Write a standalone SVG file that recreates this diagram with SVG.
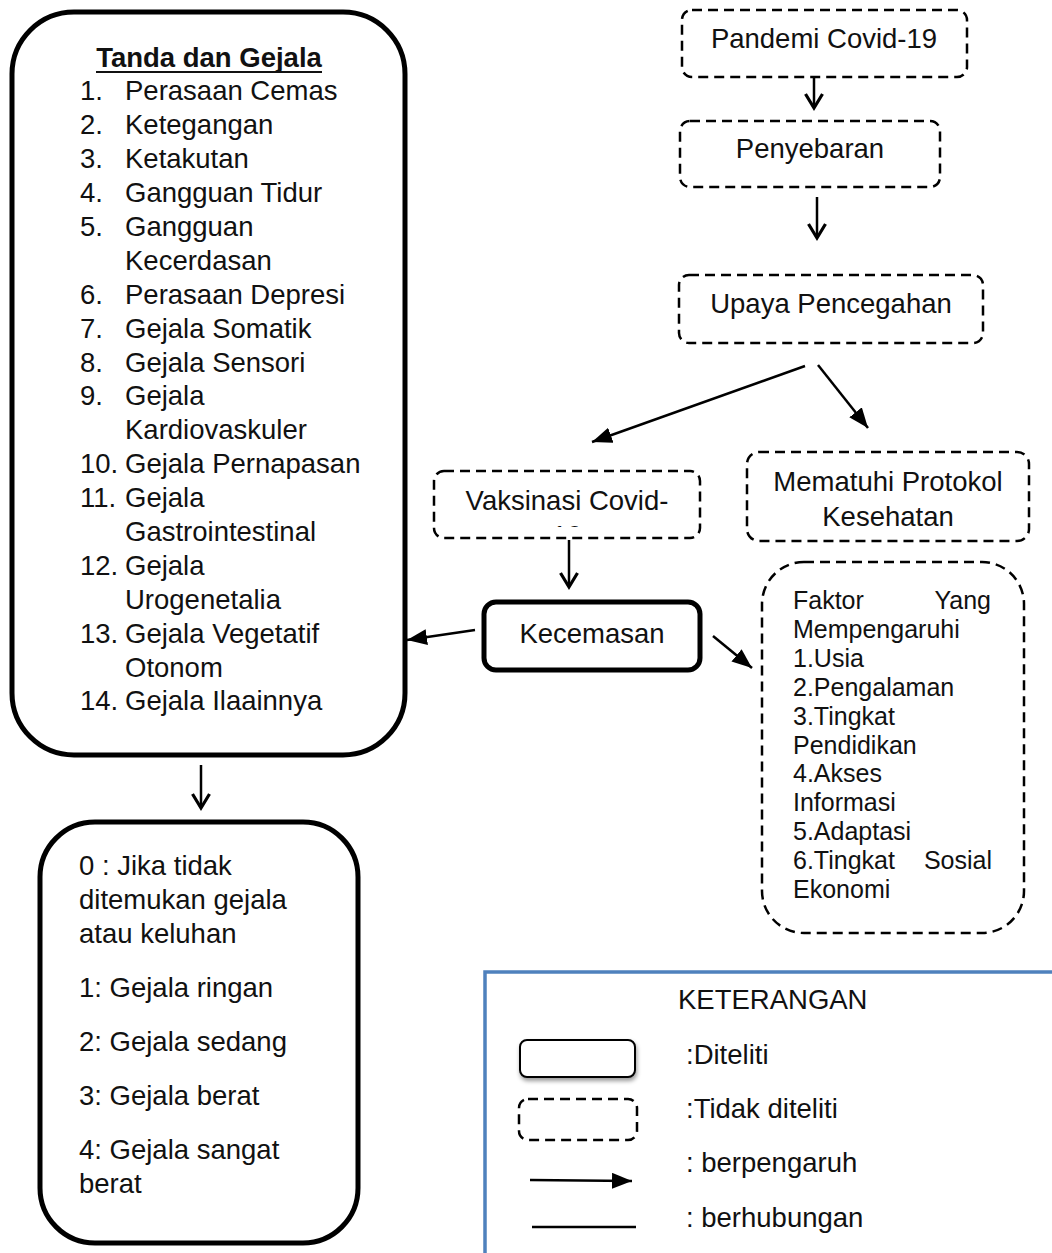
<svg xmlns="http://www.w3.org/2000/svg" width="1052" height="1253" viewBox="0 0 1052 1253">
<style>
text{font-family:"Liberation Sans",Arial,sans-serif;font-size:27.5px;fill:#111}
.c{text-anchor:middle}
.f{font-size:25px}
.solid{fill:#fff;stroke:#000;stroke-width:5}
.dash{fill:#fff;stroke:#000;stroke-width:2.5;stroke-dasharray:10 6}
.ln{fill:none;stroke:#000;stroke-width:2.5}
</style>
<defs>
<marker id="open" markerUnits="userSpaceOnUse" markerWidth="22" markerHeight="22" refX="17" refY="10" orient="auto" viewBox="0 0 22 22">
<path d="M3,1.5 L17,10 L3,18.5" fill="none" stroke="#000" stroke-width="3.2"/>
</marker>
<marker id="fill" markerUnits="userSpaceOnUse" markerWidth="22" markerHeight="18" refX="20" refY="8" orient="auto" viewBox="0 0 22 18">
<path d="M0,0 L20,8 L0,16 z" fill="#000"/>
</marker>
<clipPath id="vclip"><rect x="434" y="471" width="266" height="56"/></clipPath>
<filter id="sh" x="-10%" y="-20%" width="130%" height="160%"><feDropShadow dx="1" dy="3" stdDeviation="2" flood-color="#000" flood-opacity="0.4"/></filter>
</defs>

<g id="tanda">
<rect class="solid" x="12" y="12" width="393" height="743" rx="62"/>
<text x="209" y="67" class="c" font-weight="bold">Tanda dan Gejala</text>
<line x1="96" y1="72" x2="322" y2="72" stroke="#111" stroke-width="2"/>
<text x="80" y="100">1.</text><text x="125" y="100">Perasaan Cemas</text>
<text x="80" y="134">2.</text><text x="125" y="134">Ketegangan</text>
<text x="80" y="168">3.</text><text x="125" y="168">Ketakutan</text>
<text x="80" y="202">4.</text><text x="125" y="202">Gangguan Tidur</text>
<text x="80" y="236">5.</text><text x="125" y="236">Gangguan</text>
<text x="125" y="270">Kecerdasan</text>
<text x="80" y="304">6.</text><text x="125" y="304">Perasaan Depresi</text>
<text x="80" y="338">7.</text><text x="125" y="338">Gejala Somatik</text>
<text x="80" y="372">8.</text><text x="125" y="372">Gejala Sensori</text>
<text x="80" y="405">9.</text><text x="125" y="405">Gejala</text>
<text x="125" y="439">Kardiovaskuler</text>
<text x="80" y="473">10.</text><text x="125" y="473">Gejala Pernapasan</text>
<text x="80" y="507">11.</text><text x="125" y="507">Gejala</text>
<text x="125" y="541">Gastrointestinal</text>
<text x="80" y="575">12.</text><text x="125" y="575">Gejala</text>
<text x="125" y="609">Urogenetalia</text>
<text x="80" y="643">13.</text><text x="125" y="643">Gejala Vegetatif</text>
<text x="125" y="677">Otonom</text>
<text x="80" y="710">14.</text><text x="125" y="710">Gejala Ilaainnya</text>
</g>

<g id="skor">
<rect class="solid" x="40" y="822" width="318" height="421" rx="55"/>
<text x="79" y="875">0 : Jika tidak</text>
<text x="79" y="909">ditemukan gejala</text>
<text x="79" y="943">atau keluhan</text>
<text x="79" y="997">1: Gejala ringan</text>
<text x="79" y="1051">2: Gejala sedang</text>
<text x="79" y="1105">3: Gejala berat</text>
<text x="79" y="1159">4: Gejala sangat</text>
<text x="79" y="1193">berat</text>
</g>

<g id="pandemi">
<rect class="dash" x="682" y="10" width="285" height="67" rx="10"/>
<text x="824" y="48" class="c">Pandemi Covid-19</text>
</g>
<g id="penyebaran">
<rect class="dash" x="680" y="121" width="260" height="66" rx="10"/>
<text x="810" y="158" class="c">Penyebaran</text>
</g>
<g id="upaya">
<rect class="dash" x="679" y="275" width="304" height="68" rx="10"/>
<text x="831" y="313" class="c">Upaya Pencegahan</text>
</g>
<g id="vaksinasi">
<rect class="dash" x="434" y="471" width="266" height="67" rx="10"/>
<text x="567" y="510" class="c">Vaksinasi Covid-</text>
<text x="567" y="545" class="c" clip-path="url(#vclip)">19</text>
</g>
<g id="protokol">
<rect class="dash" x="747" y="452" width="282" height="89" rx="12"/>
<text x="888" y="491" class="c">Mematuhi Protokol</text>
<text x="888" y="526" class="c">Kesehatan</text>
</g>
<g id="kecemasan">
<rect class="solid" x="484" y="602" width="216" height="68" rx="12"/>
<text x="592" y="643" class="c">Kecemasan</text>
</g>
<g id="faktor">
<rect class="dash" x="762" y="562" width="262" height="371" rx="42"/>
<text class="f" x="793" y="609">Faktor</text><text class="f" x="991" y="609" text-anchor="end">Yang</text>
<text class="f" x="793" y="638">Mempengaruhi</text>
<text class="f" x="793" y="667">1.Usia</text>
<text class="f" x="793" y="696">2.Pengalaman</text>
<text class="f" x="793" y="725">3.Tingkat</text>
<text class="f" x="793" y="754">Pendidikan</text>
<text class="f" x="793" y="782">4.Akses</text>
<text class="f" x="793" y="811">Informasi</text>
<text class="f" x="793" y="840">5.Adaptasi</text>
<text class="f" x="793" y="869">6.Tingkat</text><text class="f" x="992" y="869" text-anchor="end">Sosial</text>
<text class="f" x="793" y="898">Ekonomi</text>
</g>

<g id="connectors">
<line class="ln" x1="814" y1="78" x2="814" y2="108" stroke-width="3" marker-end="url(#open)"/>
<line class="ln" x1="817" y1="197" x2="817" y2="238" stroke-width="3" marker-end="url(#open)"/>
<line class="ln" x1="805" y1="366" x2="592" y2="442" marker-end="url(#fill)"/>
<line class="ln" x1="818" y1="365" x2="868" y2="428" marker-end="url(#fill)"/>
<line class="ln" x1="569" y1="540" x2="569" y2="587" stroke-width="3" marker-end="url(#open)"/>
<line class="ln" x1="475" y1="630" x2="407" y2="640" marker-end="url(#fill)"/>
<line class="ln" x1="713" y1="636" x2="752" y2="668" marker-end="url(#fill)"/>
<line class="ln" x1="201" y1="765" x2="201" y2="808" stroke-width="3" marker-end="url(#open)"/>
</g>

<g id="legend">
<rect x="485" y="972" width="600" height="320" fill="none" stroke="#4f81bd" stroke-width="3.5"/>
<text x="678" y="1009">KETERANGAN</text>
<rect x="520" y="1040" width="115" height="37" rx="7" fill="#fff" stroke="#000" stroke-width="2" filter="url(#sh)"/>
<rect class="dash" x="519" y="1099" width="118" height="41" rx="9"/>
<line class="ln" x1="530" y1="1180" x2="632" y2="1181" marker-end="url(#fill)"/>
<line class="ln" x1="532" y1="1227" x2="636" y2="1227"/>
<text x="686" y="1064">:Diteliti</text>
<text x="686" y="1118">:Tidak diteliti</text>
<text x="686" y="1172">: berpengaruh</text>
<text x="686" y="1227">: berhubungan</text>
</g>
</svg>
